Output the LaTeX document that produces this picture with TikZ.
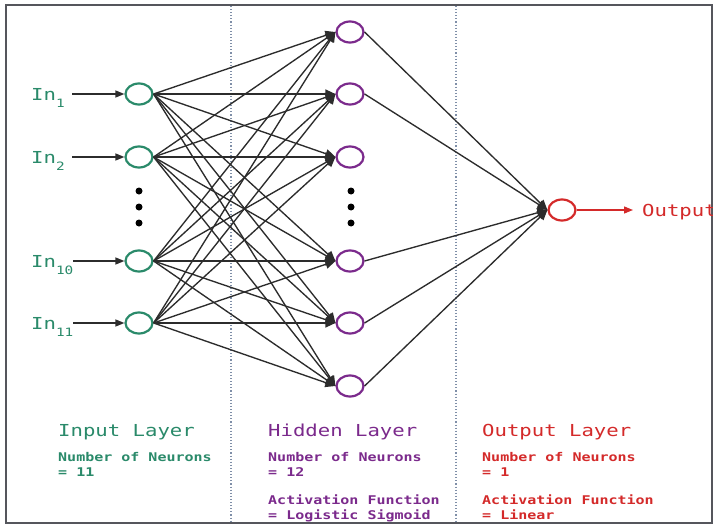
\documentclass[tikz,border=0pt]{standalone}
\usepackage{fontspec}
\newfontfamily\mono[FakeStretch=1.25]{DejaVu Sans Mono}
\usetikzlibrary{shapes.geometric,arrows.meta}
\definecolor{ingreen}{HTML}{2A8A6A}
\definecolor{hidpurple}{HTML}{7B2A8C}
\definecolor{outred}{HTML}{D42A2A}
\definecolor{edgegray}{HTML}{2C2C2C}
\definecolor{sepblue}{HTML}{7F8FA8}
\definecolor{framegray}{HTML}{55565C}
\newcommand{\sub}[1]{\raisebox{-7pt}{\fontsize{11.5}{11.5}\selectfont #1}}

\begin{document}
\begin{tikzpicture}[x=1pt,y=-1pt,
  neuron/.style={ellipse,draw,line width=2.2pt,minimum width=27pt,minimum height=21pt,inner sep=0pt},
  innode/.style={neuron,draw=ingreen},
  hidnode/.style={neuron,draw=hidpurple},
  outnode/.style={neuron,draw=outred},
  link/.style={draw=edgegray,line width=1.35pt,-{Triangle[length=10pt,width=9pt]}},
  feed/.style={draw=edgegray,line width=1.35pt,-{Triangle[length=9pt,width=7pt]}},
  dotmark/.style={circle,fill=black,inner sep=0pt,minimum size=7pt},
  inlabel/.style={inner sep=0pt,anchor=base west,font=\mono\fontsize{16.5}{18}\selectfont},
  layertitle/.style={inner sep=0pt,anchor=base west,font=\mono\fontsize{16.5}{18}\selectfont},
  info/.style={inner sep=0pt,anchor=base west,font=\mono\bfseries\fontsize{12}{15}\selectfont},
]

% canvas and frame
\fill[white] (0,0) rectangle (713,527);
\useasboundingbox (0,0) rectangle (713,527);
\draw[framegray,line width=1.8pt] (6,5) rectangle (712,523);

% layer separators
\draw[sepblue,dotted,line width=1.1pt] (231,6) -- (231,522);
\draw[sepblue,dotted,line width=1.1pt] (456,6) -- (456,522);

% input layer
\node[innode] (i1) at (139,94) {};
\node[innode] (i2) at (139,157) {};
\node[innode] (i3) at (139,261) {};
\node[innode] (i4) at (139,323) {};
\node[dotmark] (id1) at (139,191) {};
\node[dotmark] (id2) at (139,207) {};
\node[dotmark] (id3) at (139,223) {};

% hidden layer
\node[hidnode] (h1) at (350,32) {};
\node[hidnode] (h2) at (350,94) {};
\node[hidnode] (h3) at (350,157) {};
\node[hidnode] (h4) at (350,261) {};
\node[hidnode] (h5) at (350,323) {};
\node[hidnode] (h6) at (350,386) {};
\node[dotmark] (hd1) at (351,191) {};
\node[dotmark] (hd2) at (351,207) {};
\node[dotmark] (hd3) at (351,223) {};

% output layer
\node[outnode] (o) at (562,210) {};

% input labels and feeding arrows
\node[inlabel,text=ingreen] (l1) at (31,100) {In\sub{1}};
\node[inlabel,text=ingreen] (l2) at (31,163) {In\sub{2}};
\node[inlabel,text=ingreen] (l3) at (31,267) {In\sub{10}};
\node[inlabel,text=ingreen] (l4) at (31,329) {In\sub{11}};
\coordinate (a1) at (72,94);
\coordinate (a2) at (72,157);
\coordinate (a3) at (73,261);
\coordinate (a4) at (73,323);
\foreach \k in {1,...,4} \draw[feed] (a\k) -- (i\k.west);

% input -> hidden
\foreach \i in {1,...,4}
  \foreach \h in {1,...,6}
    \draw[link] (i\i.east) -- (h\h.west);

% hidden -> output
\foreach \h in {1,2,4,5,6}
  \draw[link] (h\h.east) -- (o.west);

% output arrow and label
\node[inlabel,text=outred] (ol) at (642,216) {Output};
\coordinate (oa) at (633,210);
\draw[outred,line width=1.35pt,-{Triangle[length=9pt,width=7pt]}] (o.east) -- (oa);

% layer descriptions
\node[layertitle,text=ingreen] (t1) at (58,436) {Input Layer};
\node[info,text=ingreen] (n1) at (58,461) {Number of Neurons};
\node[info,text=ingreen] (e1) at (58,476) {= 11};

\node[layertitle,text=hidpurple] (t2) at (268,436) {Hidden Layer};
\node[info,text=hidpurple] (n2) at (268,461) {Number of Neurons};
\node[info,text=hidpurple] (e2) at (268,476) {= 12};
\node[info,text=hidpurple] (f2) at (268,504) {Activation Function};
\node[info,text=hidpurple] (g2) at (268,519) {= Logistic Sigmoid};

\node[layertitle,text=outred] (t3) at (482,436) {Output Layer};
\node[info,text=outred] (n3) at (482,461) {Number of Neurons};
\node[info,text=outred] (e3) at (482,476) {= 1};
\node[info,text=outred] (f3) at (482,504) {Activation Function};
\node[info,text=outred] (g3) at (482,519) {= Linear};
\end{tikzpicture}
\end{document}
